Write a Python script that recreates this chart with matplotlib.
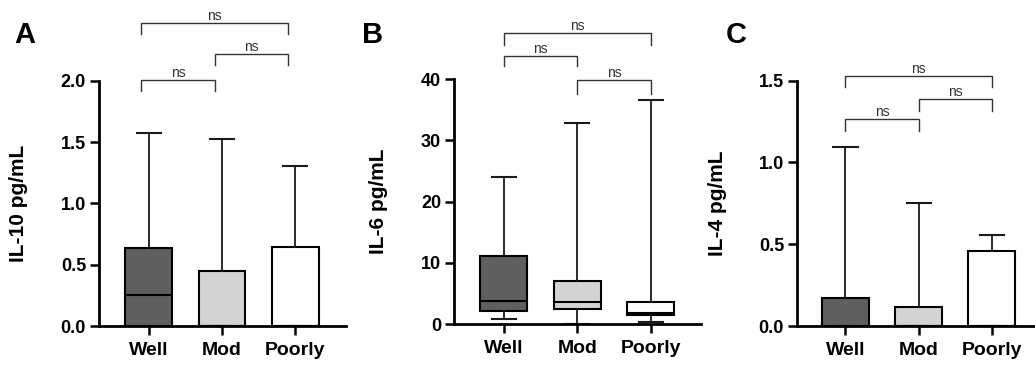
import matplotlib
matplotlib.use("Agg")
import matplotlib.pyplot as plt

plt.rcParams['font.family'] = ['Liberation Sans', 'DejaVu Sans']

groups = ["Well", "Mod", "Poorly"]
box_colors = ["#5f5f5f", "#d3d3d3", "#ffffff"]

# box stats per group: whislo, q1, med, q3, whishi
il10_whislo = [0.0, 0.0, 0.0]
il10_q1 = [0.0, 0.0, 0.0]
il10_med = [0.25, 0.0, 0.0]
il10_q3 = [0.636, 0.451, 0.642]
il10_whishi = [1.57, 1.525, 1.305]

il6_whislo = [0.92, 0.0, 0.33]
il6_q1 = [2.12, 2.5, 1.52]
il6_med = [3.8, 3.6, 1.9]
il6_q3 = [11.14, 7.06, 3.59]
il6_whishi = [24.1, 32.8, 36.5]

il4_whislo = [0.0, 0.0, 0.0]
il4_q1 = [0.0, 0.0, 0.0]
il4_med = [0.0, 0.0, 0.0]
il4_q3 = [0.169, 0.118, 0.459]
il4_whishi = [1.097, 0.75, 0.558]

# significance brackets: (group a, group b, line height, leg bottom)
il10_brackets = [(0, 2, 2.47, 2.38), (1, 2, 2.22, 2.13), (0, 1, 2.006, 1.92)]
il6_brackets = [(0, 2, 47.5, 45.6), (0, 1, 43.8, 42.2), (1, 2, 39.8, 37.5)]
il4_brackets = [(0, 2, 1.529, 1.46), (1, 2, 1.387, 1.315), (0, 1, 1.266, 1.194)]

panels = [
    dict(letter="A", ylabel="IL-10 pg/mL",
         stats=(il10_whislo, il10_q1, il10_med, il10_q3, il10_whishi),
         brackets=il10_brackets, ylim=2.0, yticks=[0, 0.5, 1.0, 1.5, 2.0], fmt="{:.1f}",
         rect=[0.0959, 0.1068, 0.2384, 0.672], xlim=(-0.673, 2.69), shift=-0.1,
         letter_xy=(14, 35), ylab_x=-0.289),
    dict(letter="B", ylabel="IL-6 pg/mL",
         stats=(il6_whislo, il6_q1, il6_med, il6_q3, il6_whishi),
         brackets=il6_brackets, ylim=40, yticks=[0, 10, 20, 30, 40], fmt="{:.0f}",
         rect=[0.4389, 0.1115, 0.2381, 0.672], xlim=(-0.675, 2.68), shift=0.0,
         letter_xy=(362, 35), ylab_x=-0.268),
    dict(letter="C", ylabel="IL-4 pg/mL",
         stats=(il4_whislo, il4_q1, il4_med, il4_q3, il4_whishi),
         brackets=il4_brackets, ylim=1.5, yticks=[0, 0.5, 1.0, 1.5], fmt="{:.1f}",
         rect=[0.7703, 0.1068, 0.2297, 0.672], xlim=(-0.658, 2.59), shift=0.0,
         letter_xy=(726, 35), ylab_x=-0.297),
]

W, H = 1035, 365
fig = plt.figure(figsize=(W / 100, H / 100), dpi=100)

for p in panels:
    ax = fig.add_axes(p["rect"])
    lo, q1, med, q3, hi = p["stats"]
    bstats = [dict(whislo=lo[i], q1=q1[i], med=med[i], q3=q3[i], whishi=hi[i], label=g)
              for i, g in enumerate(groups)]
    bp = ax.bxp(bstats, positions=range(len(groups)), widths=0.64, capwidths=0.33,
                showfliers=False, patch_artist=True,
                boxprops=dict(edgecolor="black", linewidth=1.5),
                medianprops=dict(color="black", linewidth=1.5),
                whiskerprops=dict(color="#1a1a1a", linewidth=1.3),
                capprops=dict(color="#1a1a1a", linewidth=1.5))
    for patch, c in zip(bp["boxes"], box_colors):
        patch.set_facecolor(c)

    ax.set_xlim(*p["xlim"])
    ax.set_ylim(0, p["ylim"])
    ax.set_yticks(p["yticks"])
    ax.set_yticklabels([p["fmt"].format(t) for t in p["yticks"]], fontsize=13, fontweight="bold")
    ax.set_xticks(range(len(groups)))
    ax.set_xticklabels(groups, fontsize=14, fontweight="bold")
    ax.tick_params(axis="both", length=6.5, width=1.8, pad=3)
    ax.tick_params(axis="x", pad=5)
    for s in ["top", "right"]:
        ax.spines[s].set_visible(False)
    for s in ["left", "bottom"]:
        ax.spines[s].set_linewidth(2.0)
    ax.set_ylabel(p["ylabel"], fontsize=15, fontweight="bold")
    ax.yaxis.set_label_coords(p["ylab_x"], 0.5)

    for a, b, y, yb in p["brackets"]:
        xa, xb = a + p["shift"], b + p["shift"]
        ax.plot([xa, xa, xb, xb], [yb, y, y, yb], color="#333333", lw=1.0,
                clip_on=False, solid_joinstyle="miter")
        ax.text((xa + xb) / 2, y, "ns", ha="center", va="bottom", fontsize=10,
                color="#333333")

    lx, ly = p["letter_xy"]
    fig.text(lx / W, 1 - ly / H, p["letter"], fontsize=21, fontweight="bold",
             ha="left", va="center")

fig.savefig("out.png", dpi=100)
